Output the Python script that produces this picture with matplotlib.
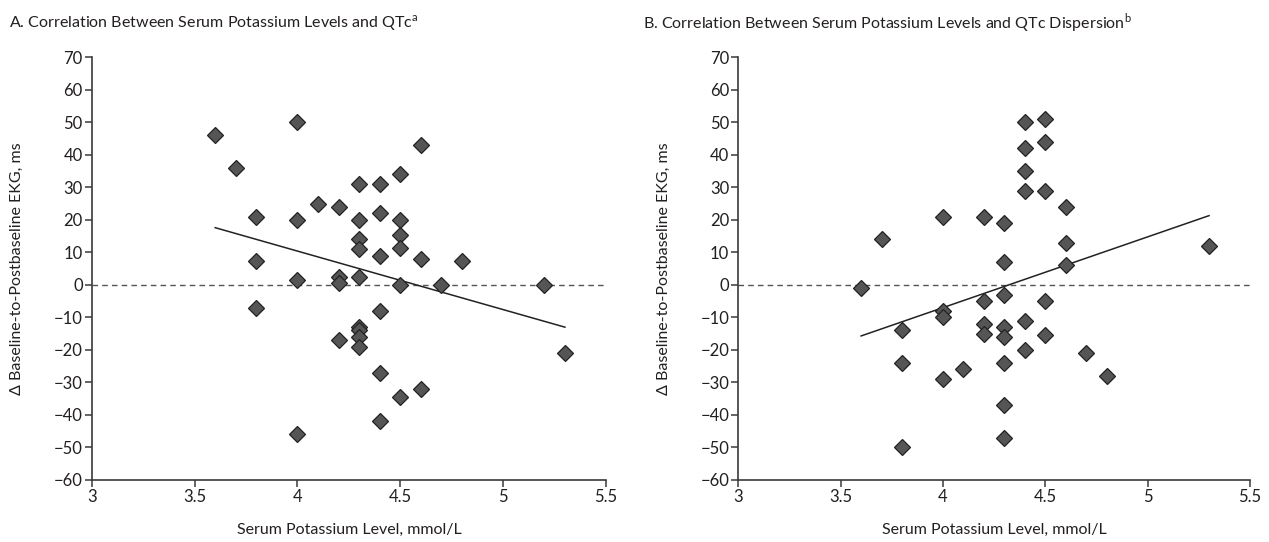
import matplotlib
matplotlib.use('Agg')
import matplotlib.pyplot as plt

plt.rcParams['font.family'] = ['Lato', 'DejaVu Sans']
plt.rcParams['mathtext.fontset'] = 'custom'
plt.rcParams['mathtext.rm'] = 'Lato'

# ---- panel A : QTc ----
a_x = [3.6, 3.7, 3.8, 3.8, 3.8,
       4.0, 4.0, 4.0, 4.0, 4.1,
       4.2, 4.2, 4.2, 4.2,
       4.3, 4.3, 4.3, 4.3, 4.3, 4.3, 4.3, 4.3, 4.3,
       4.4, 4.4, 4.4, 4.4, 4.4, 4.4,
       4.5, 4.5, 4.5, 4.5, 4.5, 4.5,
       4.6, 4.6, 4.6, 4.7, 4.8, 5.2, 5.3]
a_y = [46, 36, 21, 7.5, -7,
       50, 20, 1.5, -46, 25,
       24, 2.5, 0.5, -17,
       31, 20, 14, 11, 2.3, -12.8, -13.8, -16, -19,
       31, 22, 9, -8, -27, -42,
       34, 20, 15.4, 11.3, 0, -34.6,
       43, 8, -32, 0, 7.3, 0, -21]
a_fit_x = [3.6, 5.3]
a_fit_y = [17.6, -13.0]

# ---- panel B : QTc dispersion ----
b_x = [3.6, 3.7, 3.8, 3.8, 3.8,
       4.0, 4.0, 4.0, 4.0, 4.1,
       4.2, 4.2, 4.2, 4.2,
       4.3, 4.3, 4.3, 4.3, 4.3, 4.3, 4.3, 4.3,
       4.4, 4.4, 4.4, 4.4, 4.4, 4.4,
       4.5, 4.5, 4.5, 4.5, 4.5,
       4.6, 4.6, 4.6, 4.7, 4.8, 5.3]
b_y = [-1, 14, -14, -24, -50,
       21, -8, -10, -29, -26,
       21, -5, -12, -15,
       19, 7, -3, -13, -16, -24, -37, -47,
       50, 42, 35, 29, -11, -20,
       51, 44, 29, -5, -15.4,
       24, 13, 6, -21, -28, 12]
b_fit_x = [3.6, 5.3]
b_fit_y = [-15.7, 21.3]

xticks = [3, 3.5, 4, 4.5, 5, 5.5]
xtick_labels = ['3', '3.5', '4', '4.5', '5', '5.5']
yticks = list(range(-60, 71, 10))
ytick_labels = [str(v).replace('-', '\u2212') for v in yticks]

titles = ['A. Correlation Between Serum Potassium Levels and QTc$^{\\mathrm{a}}$',
          'B. Correlation Between Serum Potassium Levels and QTc Dispersion$^{\\mathrm{b}}$']
xlabel = 'Serum Potassium Level, mmol/L'
ylabel = '\u0394 Baseline-to-Postbaseline EKG, ms'

axis_col = '#3a3a3a'
text_col = '#231f20'

fig = plt.figure(figsize=(12.69, 5.42), dpi=100)
ax1 = fig.add_axes([0.0723, 0.1144, 0.4053, 0.7799])
ax2 = fig.add_axes([0.5818, 0.1144, 0.4032, 0.7799])

panels = [(ax1, a_x, a_y, a_fit_x, a_fit_y), (ax2, b_x, b_y, b_fit_x, b_fit_y)]
for ax, xs, ys, fx, fy in panels:
    ax.axhline(0, color='#555555', lw=1.0, ls=(0, (4, 3)), zorder=1)
    ax.plot(fx, fy, color='#222222', lw=1.1, zorder=2)
    ax.plot(xs, ys, ls='none', marker='D', markersize=8.5,
            markerfacecolor='#555555', markeredgecolor='#222222',
            markeredgewidth=0.9, zorder=3)
    ax.set_xlim(3, 5.5)
    ax.set_ylim(-60, 70)
    ax.set_xticks(xticks)
    ax.set_xticklabels(xtick_labels)
    ax.set_yticks(yticks)
    ax.set_yticklabels(ytick_labels)
    for s in ['top', 'right']:
        ax.spines[s].set_visible(False)
    for s in ['left', 'bottom']:
        ax.spines[s].set_color(axis_col)
        ax.spines[s].set_linewidth(1.2)
    ax.tick_params(direction='out', length=5, width=1.1, color=axis_col,
                   labelsize=12, labelcolor=text_col, pad=1.5)
    ax.set_xlabel(xlabel, fontsize=11.5, color=text_col)
    ax.set_ylabel(ylabel, fontsize=11.5, color=text_col)
    ax.xaxis.set_label_coords(0.5, -0.118)
    ax.yaxis.set_label_coords(-0.145, 0.5)
    ax.xaxis.label.set_va('center')
    ax.yaxis.label.set_va('center')

fig.text(0.007, 0.958, titles[0], fontsize=11.5, color=text_col, va='center', ha='left')
fig.text(0.5067, 0.958, titles[1], fontsize=11.5, color=text_col, va='center', ha='left')

fig.savefig('out.png', dpi=100)
